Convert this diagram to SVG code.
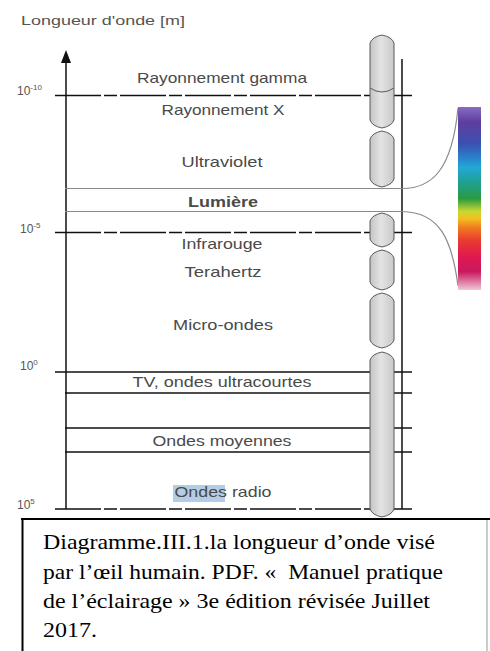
<svg xmlns="http://www.w3.org/2000/svg" width="490" height="651" viewBox="0 0 490 651">
  <defs>
    <linearGradient id="capsuleFill" x1="0" y1="0" x2="1" y2="0">
      <stop offset="0" stop-color="#c4c4c4"/>
      <stop offset="0.45" stop-color="#e4e4e4"/>
      <stop offset="1" stop-color="#c8c8c8"/>
    </linearGradient>
    <linearGradient id="spectrum" x1="0" y1="0" x2="0" y2="1">
      <stop offset="0" stop-color="#8a6cc4"/>
      <stop offset="0.08" stop-color="#5e3e9e"/>
      <stop offset="0.2" stop-color="#3c50b2"/>
      <stop offset="0.27" stop-color="#2a7cc8"/>
      <stop offset="0.33" stop-color="#22a8d6"/>
      <stop offset="0.42" stop-color="#1fa08a"/>
      <stop offset="0.5" stop-color="#2a9a40"/>
      <stop offset="0.57" stop-color="#c8d830"/>
      <stop offset="0.61" stop-color="#f2c020"/>
      <stop offset="0.66" stop-color="#f07a20"/>
      <stop offset="0.73" stop-color="#e83a30"/>
      <stop offset="0.82" stop-color="#e01850"/>
      <stop offset="0.9" stop-color="#c81a60"/>
      <stop offset="1" stop-color="#f2c8d6"/>
    </linearGradient>
    <marker id="axisHead" viewBox="0 0 13 10" refX="0" refY="5" markerWidth="13" markerHeight="10" markerUnits="userSpaceOnUse" orient="auto-start-reverse">
      <path d="M13,5 L0,0 L0,10 Z" fill="#111"/>
    </marker>
  </defs>
  <style>
    .lbl { font-family: "Liberation Sans", Arial, sans-serif; font-size: 15px; fill: #4a4a4a; text-anchor: middle; }
    .tick { font-family: "Liberation Sans", Arial, sans-serif; font-size: 12px; fill: #555; }
    .sup { font-size: 8px; }
    .rule { stroke: #111; stroke-width: 1.5; fill: none; }
    .dash { stroke-dasharray: 46 3 13 3; }
    .light { stroke: #8a8a8a; stroke-width: 1.2; fill: none; }
    .cap { fill: url(#capsuleFill); stroke: #5a5a5a; stroke-width: 1; }
    .caption { font-family: "Liberation Serif", "Times New Roman", serif; font-size: 22px; fill: #000; }
  </style>

  <rect width="490" height="651" fill="#fff"/>

  <!-- axis title -->
  <text x="21" y="25" class="tick" font-size="15" textLength="164" lengthAdjust="spacingAndGlyphs">Longueur d'onde [m]</text>

  <!-- scale lines and axes -->
  <g id="connectors">
    <line class="rule" x1="66" y1="63" x2="66" y2="509" marker-start="url(#axisHead)"/>
    <line class="rule" x1="402" y1="59" x2="402" y2="509" stroke-width="1.2"/>
    <line class="rule dash" x1="55" y1="95.5" x2="412" y2="95.5"/>
    <line class="rule dash" x1="55" y1="232.5" x2="412" y2="232.5"/>
    <line class="rule" x1="55" y1="372" x2="412" y2="372"/>
    <line class="rule" x1="65" y1="393" x2="412" y2="393"/>
    <line class="rule" x1="65" y1="428" x2="412" y2="428"/>
    <line class="rule" x1="65" y1="452" x2="412" y2="452"/>
    <line class="rule dash" x1="55" y1="509" x2="412" y2="509"/>
    <!-- visible band bounds fanning out to the spectrum -->
    <path class="light" d="M65,188.5 H402 C432,188.5 452,170 458,108"/>
    <path class="light" d="M65,211.5 H402 C440,212 452,240 458,286"/>
  </g>

  <!-- tick values -->
  <g id="ticks">
    <text class="tick" x="17" y="95">10<tspan class="sup" dy="-5">-10</tspan></text>
    <text class="tick" x="20" y="233">10<tspan class="sup" dy="-5">-5</tspan></text>
    <text class="tick" x="20" y="370">10<tspan class="sup" dy="-5">0</tspan></text>
    <text class="tick" x="17" y="509">10<tspan class="sup" dy="-5">5</tspan></text>
  </g>

  <!-- band capsules -->
  <g id="capsules">
    <path class="cap" d="M370,43 Q372,37 382,35 Q392,37 394,43 V120 Q392,126 382,128 Q372,126 370,120 Z"/>
    <path d="M370,88 Q382,96 394,88" fill="none" stroke="#5a5a5a" stroke-width="1"/>
    <path class="cap" d="M370,139 Q372,133 382,131 Q392,133 394,139 V179 Q392,185 382,187 Q372,185 370,179 Z"/>
    <path class="cap" d="M370,221 Q372,215 382,213 Q392,215 394,221 V239 Q392,245 382,247 Q372,245 370,239 Z"/>
    <path class="cap" d="M370,258 Q372,252 382,250 Q392,252 394,258 V282 Q392,288 382,290 Q372,288 370,282 Z"/>
    <path class="cap" d="M370,301 Q372,295 382,293 Q392,295 394,301 V340 Q392,346 382,348 Q372,346 370,340 Z"/>
    <path class="cap" d="M370,360 Q372,354 382,352 Q392,354 394,360 V509 Q392,515 382,517 Q372,515 370,509 Z"/>
  </g>

  <!-- visible spectrum -->
  <g id="spectrum-bar">
    <rect x="458" y="107" width="23" height="183" fill="url(#spectrum)"/>
  </g>

  <!-- band names -->
  <g id="gamma"><text class="lbl" x="222" y="83" textLength="170" lengthAdjust="spacingAndGlyphs">Rayonnement gamma</text></g>
  <g id="xray"><text class="lbl" x="223" y="115" textLength="123" lengthAdjust="spacingAndGlyphs">Rayonnement X</text></g>
  <g id="uv"><text class="lbl" x="222" y="167" textLength="81" lengthAdjust="spacingAndGlyphs">Ultraviolet</text></g>
  <g id="light"><text class="lbl" x="223" y="207" font-weight="bold" fill="#222" textLength="70" lengthAdjust="spacingAndGlyphs">Lumière</text></g>
  <g id="ir"><text class="lbl" x="222" y="249" textLength="81" lengthAdjust="spacingAndGlyphs">Infrarouge</text></g>
  <g id="thz"><text class="lbl" x="223" y="277" textLength="77" lengthAdjust="spacingAndGlyphs">Terahertz</text></g>
  <g id="micro"><text class="lbl" x="223" y="330" textLength="100" lengthAdjust="spacingAndGlyphs">Micro-ondes</text></g>
  <g id="tv"><text class="lbl" x="222" y="387" textLength="179" lengthAdjust="spacingAndGlyphs">TV, ondes ultracourtes</text></g>
  <g id="mw"><text class="lbl" x="222" y="446" textLength="139" lengthAdjust="spacingAndGlyphs">Ondes moyennes</text></g>
  <g id="radio">
    <rect x="173" y="485" width="52" height="17" fill="#b4cde6"/>
    <text class="lbl" x="223" y="497" textLength="97" lengthAdjust="spacingAndGlyphs">Ondes radio</text>
  </g>

  <!-- caption frame -->
  <g id="caption">
    <line x1="21" y1="519" x2="490" y2="519" stroke="#000" stroke-width="2"/>
    <line x1="22.5" y1="518" x2="22.5" y2="651" stroke="#000" stroke-width="2"/>
    <line x1="487" y1="520" x2="487" y2="651" stroke="#999" stroke-width="1"/>
    <text class="caption" x="43" y="549" textLength="392" lengthAdjust="spacingAndGlyphs">Diagramme.III.1.la longueur d’onde visé</text>
    <text class="caption" x="43" y="578.5" textLength="400" lengthAdjust="spacingAndGlyphs">par l’œil humain. PDF. «&#160; Manuel pratique</text>
    <text class="caption" x="43" y="608" textLength="387" lengthAdjust="spacingAndGlyphs">de l’éclairage » 3e édition révisée Juillet</text>
    <text class="caption" x="43" y="637" textLength="54" lengthAdjust="spacingAndGlyphs">2017.</text>
  </g>
</svg>
